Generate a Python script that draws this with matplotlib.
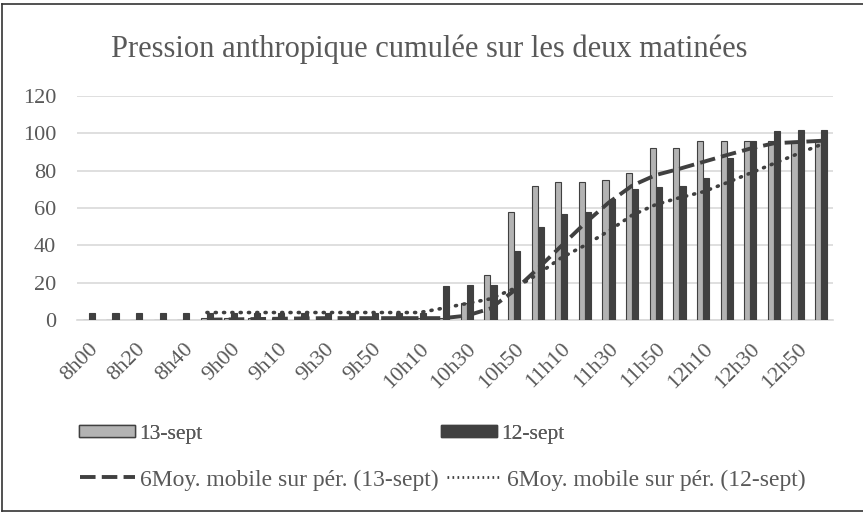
import matplotlib.pyplot as plt
import matplotlib.lines as mlines
import matplotlib.patches as mpatches
import numpy as np
import pandas as pd

# Catégories horaires (une étiquette sur deux affichée)
heures = ['8h00', '8h10', '8h20', '8h30', '8h40', '8h50', '9h00', '9h05',
          '9h10', '9h20', '9h30', '9h40', '9h50', '10h00', '10h10', '10h20',
          '10h30', '10h40', '10h50', '11h00', '11h10', '11h20', '11h30', '11h40',
          '11h50', '12h00', '12h10', '12h20', '12h30', '12h40', '12h50', '13h00']

# Valeurs cumulées
sept13 = [0, 0, 0, 0, 0, 1, 1, 1, 1, 1, 1, 1, 1, 1, 1, 1,
          9, 24, 58, 72, 74, 74, 75, 79, 92, 92, 96, 96, 96, 96, 96, 96]
sept12 = [4, 4, 4, 4, 4, 4, 4, 4, 4, 4, 4, 4, 4, 4, 4, 18,
          19, 19, 37, 50, 57, 58, 65, 70, 71, 72, 76, 87, 96, 101, 102, 102]

periode = 6
mm13 = pd.Series(sept13).rolling(periode).mean()
mm12 = pd.Series(sept12).rolling(periode).mean()

plt.rcParams['font.family'] = ['Liberation Serif', 'DejaVu Serif']
txt = '#595959'
fonce = '#404040'

fig = plt.figure(figsize=(8.63, 5.13), dpi=100)
ax = fig.add_axes([77 / 863, 1 - 320 / 513, (833 - 77) / 863, 224 / 513])

x = np.arange(len(heures))
w = 0.26
ax.bar(x - w / 2, sept13, w, color='#B3B3B3', edgecolor=fonce, linewidth=0.8, zorder=3)
ax.bar(x + w / 2, sept12, w, color=fonce, edgecolor=fonce, linewidth=0.8, zorder=3)
ax.plot(x, mm13, color=fonce, lw=2.8, dashes=(4.0, 1.6), zorder=4)
ax.plot(x, mm12, color=fonce, lw=2.6, linestyle=(0, (0.3, 2.0)),
        dash_capstyle='round', zorder=4)

ax.set_xlim(-0.5, len(heures) - 0.5)
ax.set_ylim(0, 120)
ax.set_yticks(range(0, 121, 20))
ax.yaxis.grid(True, color='#D9D9D9', lw=1.2)
ax.set_axisbelow(True)
for s in ['left', 'right', 'top']:
    ax.spines[s].set_visible(False)
ax.spines['bottom'].set_color('#D9D9D9')
ax.spines['bottom'].set_linewidth(1.2)

ax.set_xticks(x[::2])
ax.set_xticklabels(heures[::2], rotation=45, ha='right', rotation_mode='anchor')
ax.tick_params(axis='both', length=0, labelsize=16, colors=txt)
ax.tick_params(axis='y', pad=15)
ax.tick_params(axis='x', pad=14)

fig.text(0.497, 1 - 57 / 513, 'Pression anthropique cumulée sur les deux matinées',
         ha='center', va='baseline', fontsize=22, color=txt)

# Légende sur deux lignes comme dans Excel
h13 = mpatches.Patch(facecolor='#B3B3B3', edgecolor=fonce, lw=1)
h12 = mpatches.Patch(facecolor=fonce, edgecolor=fonce, lw=1)
leg1 = fig.legend([h13, h12], ['13-sept', '12-sept'], ncol=2, loc='center left',
                  bbox_to_anchor=(68 / 863, 1 - 434 / 513), frameon=False, borderpad=0,
                  fontsize=15.5, labelcolor=txt, handlelength=2.6, handleheight=0.45,
                  handletextpad=0.2, columnspacing=11.1)
l13 = mlines.Line2D([], [], color=fonce, lw=2.8, dashes=(4.0, 1.6))
l12 = mlines.Line2D([], [], color=fonce, lw=2.0, linestyle=(0, (0.6, 1.2)))
leg2 = fig.legend([l13, l12], ['6Moy. mobile sur pér. (13-sept)', '6Moy. mobile sur pér. (12-sept)'],
                  ncol=2, loc='center left', bbox_to_anchor=(68 / 863, 1 - 480 / 513),
                  frameon=False, borderpad=0, fontsize=17, labelcolor=txt,
                  handlelength=2.35, handletextpad=0.2, columnspacing=0.35)
fig.add_artist(leg1)

# Cadre du graphique
for xs, ys in [([0.002, 0.002], [0.004, 0.992]), ([0.002, 1.0], [0.992, 0.992]),
               ([0.002, 1.0], [0.004, 0.004])]:
    fig.add_artist(mlines.Line2D(xs, ys, color='#333333', lw=1.2))

fig.savefig('out.png', dpi=100)
